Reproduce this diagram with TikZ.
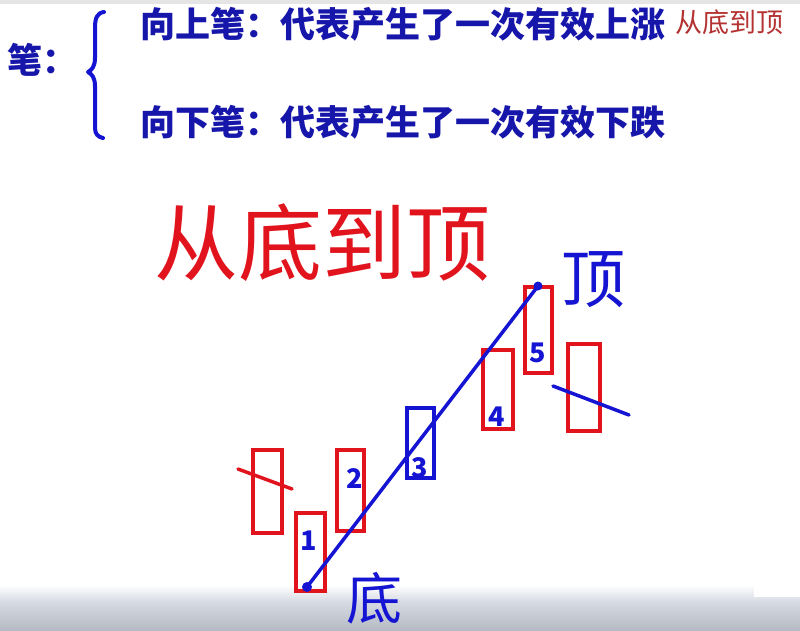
\documentclass[tikz,border=0pt]{standalone}
\usepackage{fontspec}
\newfontfamily\cjk{Noto Sans CJK SC}
\definecolor{txtblue}{RGB}{22,22,170}
\definecolor{penblue}{RGB}{20,20,210}
\definecolor{penred}{RGB}{225,20,30}
\definecolor{smallred}{RGB}{180,50,50}
\definecolor{barlight}{RGB}{214,218,226}
\definecolor{bardark}{RGB}{182,186,196}
\tikzset{
  x=1pt, y=-1pt,
  candle/.style={draw=penred, line width=3.5pt},
  bluecandle/.style={draw=penblue, line width=3.5pt},
  pen/.style={draw=penblue, line width=3.5pt, line cap=round},
  redpen/.style={draw=penred, line width=3.5pt, line cap=round},
  headtxt/.style={text=txtblue, font=\cjk\bfseries\fontsize{35}{40}\selectfont, anchor=west, inner sep=0pt},
  numtxt/.style={text=penblue, font=\cjk\bfseries\fontsize{27}{30}\selectfont, inner sep=0pt},
  handtxt/.style={inner sep=0pt}
}
\begin{document}
\begin{tikzpicture}
\useasboundingbox (0,0) rectangle (800,630);
\fill[white] (0,0) rectangle (800,630);
% bottom grey bar
\shade[top color=white, bottom color=barlight] (0,585) rectangle (800,602);
\shade[top color=barlight, bottom color=bardark] (0,602) rectangle (800,630);
\fill[white] (754,577) rectangle (800,597);
\fill[black!10] (0,0) rectangle (800,4);

% heading
\node[headtxt, anchor=center] (bi) at (42,60) {笔：};
\draw[draw=penblue, line width=4pt, line cap=round, line join=round]
  (104,12) .. controls (97,13) and (95,18) .. (95,28)
  -- (95,58) .. controls (95,66) and (92,70) .. (88,72)
  .. controls (92,74) and (95,78) .. (95,86)
  -- (95,128) .. controls (95,134) and (98,137) .. (103,138);
\node[headtxt] (up) at (140,24) {向上笔：代表产生了一次有效上涨};
\node[text=smallred, font=\cjk\fontsize{27}{30}\selectfont, anchor=west, inner sep=0pt] (upnote) at (675,22) {从底到顶};
\node[headtxt] (down) at (140,122) {向下笔：代表产生了一次有效下跌};

% handwritten title
\node[handtxt, text=penred, font=\cjk\fontsize{84}{88}\selectfont] (title) at (322,243) {从底到顶};

% candles
\draw[candle] (253,450) rectangle (282,533);
\draw[redpen] (238,469) -- (292,489);
\draw[candle] (296,513) rectangle (325,591);
\draw[candle] (337,450) rectangle (364,531);
\draw[bluecandle] (407,408) rectangle (434,478);
\draw[candle] (483,350) rectangle (513,429);
\draw[candle] (525,287) rectangle (552,373);
\draw[candle] (568,344) rectangle (600,431);
\draw[pen] (553,386) -- (629,415);

% numbers
\node[numtxt] (n1) at (309,541) {1};
\node[numtxt] (n2) at (355,478) {2};
\node[numtxt] (n3) at (420,468) {3};
\node[numtxt] (n4) at (497,417) {4};
\node[numtxt] (n5) at (538,353) {5};

% stroke from bottom to top
\coordinate (bot) at (307,587);
\coordinate (top) at (538,286);
\draw[pen] (bot) -- (top);
\fill[penblue] (bot) circle (5);
\fill[penblue] (top) circle (4.5);

% labels
\node[handtxt, text=penblue, font=\cjk\fontsize{64}{68}\selectfont] (ding) at (593,280) {顶};
\node[handtxt, text=penblue, font=\cjk\fontsize{56}{60}\selectfont] (di) at (374,598) {底};
\end{tikzpicture}
\end{document}
